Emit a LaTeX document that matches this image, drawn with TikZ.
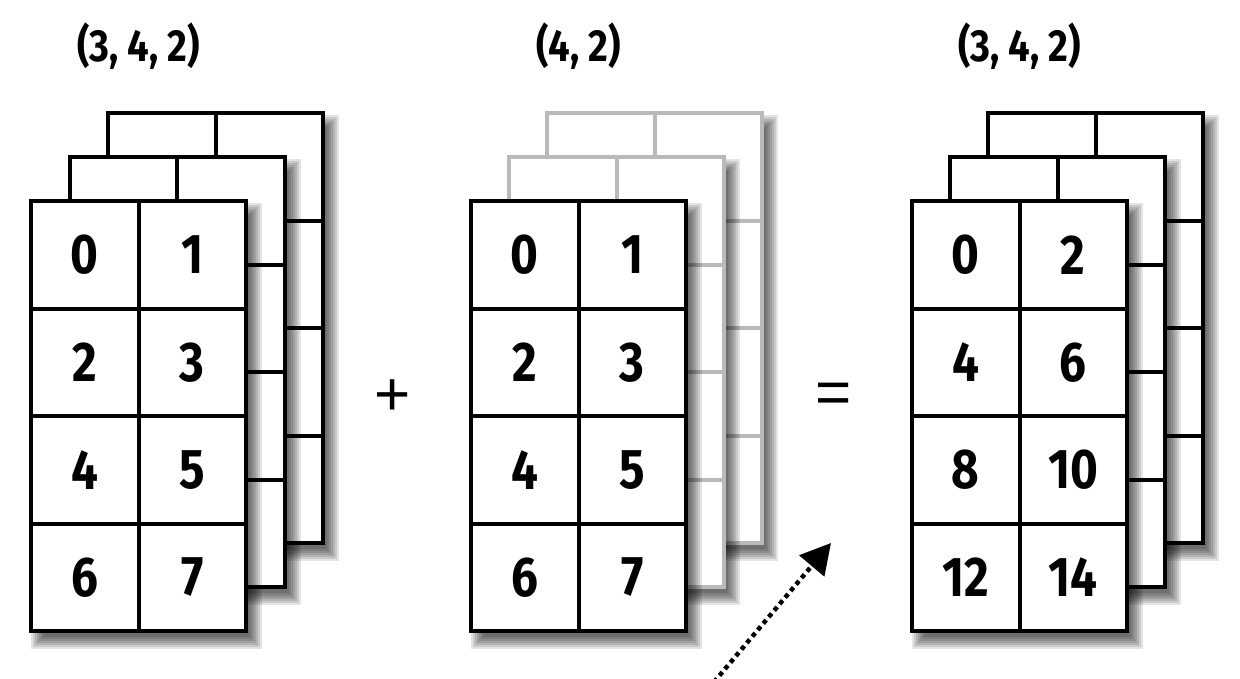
\documentclass[tikz,border=0pt]{standalone}
\usepackage{fontspec}
\newfontfamily\numfont[FakeStretch=0.85]{Fira Sans}
\newfontfamily\opfont{Liberation Sans}
\usetikzlibrary{arrows.meta}
\tikzset{
  layerbox/.style={draw=black, line width=4pt, fill=white},
  greybox/.style={layerbox, draw=black!27},
  gline/.style={line width=4pt, draw=black},
  ggline/.style={line width=4pt, draw=black!27},
  shadowpart/.style={fill=black, fill opacity=0.11},
  cell/.style={draw=black, line width=4pt, minimum width=107.5pt, minimum height=107.5pt,
    inner sep=0pt, font=\numfont\bfseries\fontsize{56}{56}\selectfont},
  dimlabel/.style={font=\numfont\bfseries\fontsize{45}{45}\selectfont, inner sep=0pt},
  opsign/.style={font=\opfont\fontsize{62}{62}\selectfont, inner sep=0pt},
  dotarrow/.style={line width=4.5pt, dash pattern=on 4.5pt off 4pt, line cap=butt,
    -{Triangle[length=30pt,width=32pt]}}
}
\newcommand\layershadow[2]{% x, y of layer
  \foreach \k in {0,...,6}{
    \fill[shadowpart] (#1+2*\k,#2+2+2*\k) rectangle (#1+215+16-2*\k,#2+430+18-2*\k);
  }
}
\newcommand\backlayer[3]{% x, y, line style
  \draw[#3] (#1+107.5,#2) -- ++(0,430);
  \foreach \r in {1,2,3}{\draw[#3] (#1,#2+107.5*\r) -- ++(215,0);}
}
\newcommand\frontcells[4]{% x, y, prefix, list of values
  \foreach \v [count=\i from 0] in {#4}{
    \pgfmathtruncatemacro\row{int(\i/2)}
    \pgfmathtruncatemacro\col{mod(\i,2)}
    \node[cell] (#3-\row-\col) at (#1+53.75+107.5*\col, #2+53.75+107.5*\row) {\v};
  }
}
\begin{document}
\begin{tikzpicture}[x=1pt,y=-1pt]
\useasboundingbox (0,0) rectangle (1240,678);
\fill[white] (0,0) rectangle (1240,678);

% ---------- left stack ----------
\layershadow{108}{113}
\draw[layerbox] (108,113) rectangle ++(215,430);
\backlayer{108}{113}{gline}
\layershadow{69.5}{157}
\draw[layerbox] (69.5,157) rectangle ++(215,430);
\backlayer{69.5}{157}{gline}
\layershadow{31}{201}
\draw[layerbox] (31,201) rectangle ++(215,430);
\frontcells{31}{201}{A}{0,1,2,3,4,5,6,7}
\node[dimlabel] (labA) at (138.5,46) {(3, 4, 2)};

% ---------- middle stack ----------
\layershadow{547}{113}
\draw[greybox] (547,113) rectangle ++(215,430);
\backlayer{547}{113}{ggline}
\layershadow{509}{157}
\draw[greybox] (509,157) rectangle ++(215,430);
\backlayer{509}{157}{ggline}
\layershadow{471}{201}
\draw[layerbox] (471,201) rectangle ++(215,430);
\frontcells{471}{201}{B}{0,1,2,3,4,5,6,7}
\node[dimlabel] (labB) at (578.5,46) {(4, 2)};

% ---------- right stack ----------
\layershadow{988}{113}
\draw[layerbox] (988,113) rectangle ++(215,430);
\backlayer{988}{113}{gline}
\layershadow{950}{157}
\draw[layerbox] (950,157) rectangle ++(215,430);
\backlayer{950}{157}{gline}
\layershadow{912}{201}
\draw[layerbox] (912,201) rectangle ++(215,430);
\frontcells{912}{201}{C}{0,2,4,6,8,10,12,14}
\node[dimlabel] (labC) at (1019.5,46) {(3, 4, 2)};

% ---------- operators ----------
\node[opsign] (plus) at (393,398) {+};
\node[opsign] (eq) at (834,398) {=};

% ---------- broadcast arrow ----------
\coordinate (arrS) at (714,682);
\coordinate (arrE) at (831,543);
\draw[dotarrow] (arrS) -- (arrE);
\end{tikzpicture}
\end{document}
